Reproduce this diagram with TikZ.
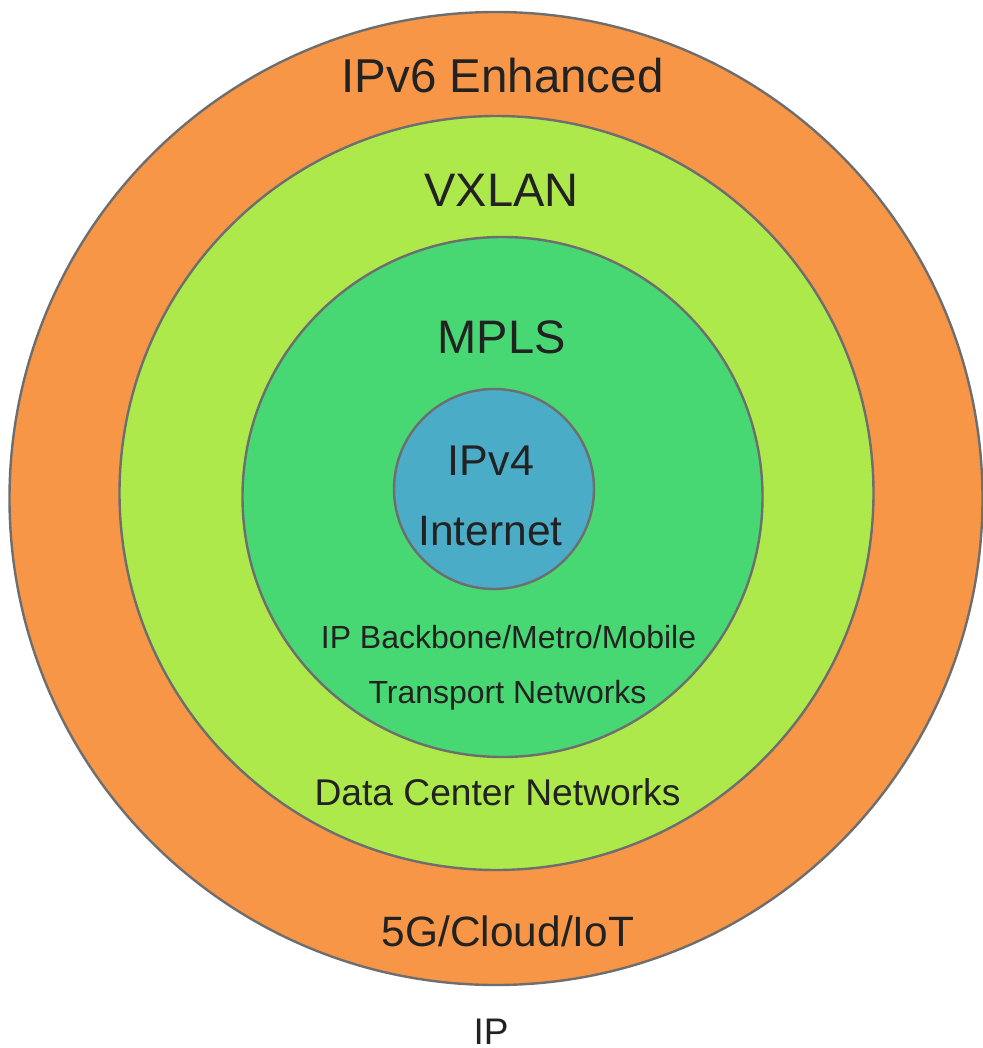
\documentclass[tikz,border=0pt]{standalone}
\usepackage{fontspec}
\setmainfont{Liberation Sans}
\definecolor{ringorange}{HTML}{F79646}
\definecolor{ringlime}{HTML}{ADE94A}
\definecolor{ringgreen}{HTML}{48D873}
\definecolor{ringblue}{HTML}{4AACC6}
\definecolor{ringedge}{HTML}{6E6E6E}
\definecolor{labeltext}{HTML}{222222}
\begin{document}
\begin{tikzpicture}[x=1pt,y=-1pt,
  ring/.style={circle, draw=ringedge, line width=2.4pt, inner sep=0pt, minimum size=#1},
  lbl/.style={anchor=base, text=labeltext, inner sep=0pt, font=\fontsize{#1}{#1}\selectfont}]
\useasboundingbox (0,0) rectangle (982,1048);
% nested layers
\node[ring=973pt, fill=ringorange] (ipv6) at (496,498.5) {};
\node[ring=754pt, fill=ringlime]   (vxlan) at (496.5,493) {};
\node[ring=520pt, fill=ringgreen]  (mpls) at (502.5,497) {};
\node[ring=200pt, fill=ringblue]   (ipv4) at (494,489) {};
% layer labels
\node[lbl=47.5] (tipv6) at (502.5,93) {IPv6 Enhanced};
\node[lbl=47] (tvxlan) at (501.5,207) {VXLAN};
\node[lbl=47] (tmpls) at (501.5,353) {MPLS};
\node[lbl=43] (tipv4) at (491,475) {IPv4};
\node[lbl=42.5] (tinternet) at (490.5,545) {Internet};
\node[lbl=32] (tbackbone) at (508.5,648) {IP Backbone/Metro/Mobile};
\node[lbl=32] (ttransport) at (507.5,703) {Transport Networks};
\node[lbl=37.2] (tdc) at (497.5,805) {Data Center Networks};
\node[lbl=42.4] (tcloud) at (508,946) {5G/Cloud/IoT};
% caption under the rings
\node[lbl=37] (tip) at (491,1044.5) {IP};
\end{tikzpicture}
\end{document}
